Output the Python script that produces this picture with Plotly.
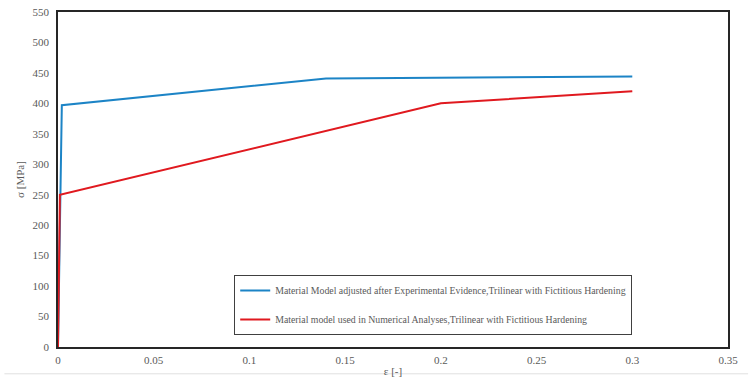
import plotly.graph_objects as go

blue_x = [0, 0.002, 0.14, 0.3]
blue_y = [0, 397, 441, 444]
red_x = [0, 0.001, 0.2, 0.3]
red_y = [0, 250, 400, 420]
blue_name = "Material Model adjusted after Experimental Evidence,Trilinear with Fictitious Hardening"
red_name = "Material model used in Numerical Analyses,Trilinear with Fictitious Hardening"
x_ticks = [0, 0.05, 0.1, 0.15, 0.2, 0.25, 0.3, 0.35]
x_tick_text = ["0", "0.05", "0.1", "0.15", "0.2", "0.25", "0.3", "0.35"]
y_ticks = list(range(0, 551, 50))

font_family = "Liberation Serif"
gray = "#595959"

fig = go.Figure()
fig.add_trace(go.Scatter(x=blue_x, y=blue_y, mode="lines", name=blue_name,
                         line=dict(color="#1c84c6", width=2), legendgroup="a"))
fig.add_trace(go.Scatter(x=red_x, y=red_y, mode="lines", name=red_name,
                         line=dict(color="#e0191f", width=2), legendgroup="b"))

fig.update_layout(
    width=752, height=382,
    margin=dict(l=58, r=24, t=12, b=35, autoexpand=False),
    paper_bgcolor="white", plot_bgcolor="white",
    font=dict(family=font_family, color=gray, size=11),
    showlegend=True,
    legend=dict(x=0.263, y=0.215, xanchor="left", yanchor="top",
                bordercolor="#404040", borderwidth=1, bgcolor="white",
                font=dict(family=font_family, size=9.8, color=gray),
                tracegroupgap=10, itemwidth=30),
    xaxis=dict(range=[0, 0.35], tickvals=x_ticks, ticktext=x_tick_text,
               showgrid=False, zeroline=False, showline=True, linecolor="#262626",
               linewidth=1.5, mirror=True, ticks="", automargin=False,
               ticklabelstandoff=2,
               tickfont=dict(family=font_family, size=11, color=gray),
               title=dict(text="ε [-]", standoff=2,
                          font=dict(family=font_family, size=11, color=gray))),
    yaxis=dict(range=[0, 550], tickvals=y_ticks, showgrid=False, zeroline=False,
               showline=True, linecolor="#262626", linewidth=1.5, mirror=True,
               ticks="", automargin=False, ticklabelstandoff=5,
               tickfont=dict(family=font_family, size=11, color=gray),
               title=dict(text="σ [MPa]", standoff=6,
                          font=dict(family=font_family, size=11, color=gray))),
)

# faint line below the chart
fig.add_shape(type="line", xref="paper", yref="paper", x0=-0.08, x1=1.03,
              y0=-0.08, y1=-0.08, line=dict(color="#e0e0e0", width=1))

fig.write_html("out.html")
